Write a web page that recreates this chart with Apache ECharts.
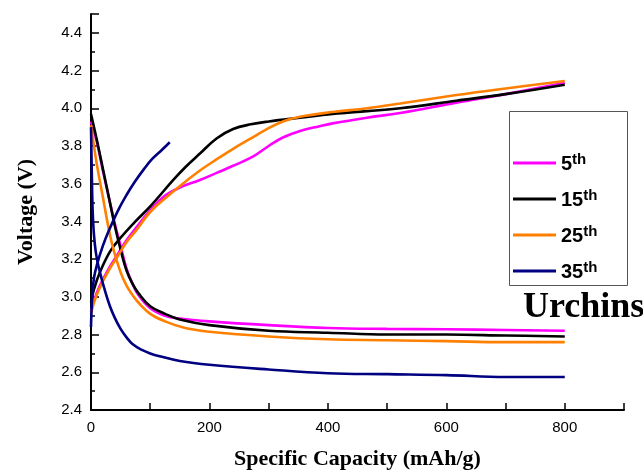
<!DOCTYPE html>
<html>
<head>
<meta charset="utf-8">
<script src="https://cdn.jsdelivr.net/npm/echarts@6/dist/echarts.min.js"></script>
<style>html,body{margin:0;padding:0;background:#fff;}#c{width:643px;height:470px;}</style>
</head>
<body>
<div id="c"></div>
<script>
// ---- data ----
const cycleNames = ['5th', '15th', '25th', '35th'];
const cycleColors = ['#ff00ff', '#000000', '#ff8000', '#000080'];
const xTickLabels = [0, 200, 400, 600, 800];
const yTickLabels = [2.4, 2.6, 2.8, 3.0, 3.2, 3.4, 3.6, 3.8, 4.0, 4.2, 4.4];

// discharge curves [capacity mAh/g, voltage V]
const dis5 = [[0,3.93],[10,3.82],[20,3.67],[30,3.53],[40,3.39],[50,3.27],[60,3.15],[70,3.07],[80,3.01],[100,2.94],[125,2.90],[150,2.885],[200,2.87],[300,2.85],[400,2.835],[500,2.83],[600,2.828],[700,2.824],[800,2.82]];
const dis15 = [[0,3.97],[10,3.83],[20,3.68],[30,3.53],[40,3.38],[50,3.25],[60,3.14],[70,3.07],[80,3.02],[100,2.95],[125,2.91],[150,2.88],[200,2.85],[300,2.82],[400,2.81],[500,2.80],[600,2.80],[700,2.795],[800,2.79]];
const dis25 = [[0,3.91],[5,3.80],[10,3.70],[20,3.53],[30,3.36],[38,3.25],[50,3.13],[60,3.06],[70,3.01],[80,2.97],[100,2.91],[125,2.87],[159,2.835],[200,2.815],[300,2.79],[400,2.775],[500,2.77],[600,2.765],[700,2.76],[800,2.76]];
const dis35 = [[0,3.90],[1,3.72],[2,3.55],[3,3.44],[5,3.33],[8,3.24],[12,3.17],[16,3.12],[22,3.05],[32,2.95],[40,2.89],[50,2.83],[60,2.785],[70,2.75],[85,2.72],[100,2.70],[116,2.685],[150,2.66],[200,2.64],[300,2.615],[400,2.595],[500,2.59],[600,2.585],[700,2.575],[800,2.575]];

// charge curves
const chg5 = [[0,2.92],[5,2.98],[15,3.06],[30,3.15],[44,3.22],[60,3.30],[77,3.37],[100,3.46],[122,3.53],[150,3.58],[184,3.62],[214,3.66],[240,3.695],[274,3.745],[300,3.80],[324,3.845],[353,3.88],[386,3.905],[408,3.92],[466,3.95],[522,3.975],[617,4.03],[700,4.075],[800,4.135]];
const chg15 = [[0,2.97],[5,3.04],[15,3.13],[32,3.24],[49,3.31],[75,3.40],[100,3.48],[139,3.62],[160,3.69],[184,3.76],[212,3.84],[240,3.89],[270,3.915],[300,3.93],[353,3.95],[408,3.97],[466,3.985],[522,4.0],[617,4.04],[700,4.075],[800,4.125]];
const chg25 = [[0,2.91],[5,2.97],[15,3.05],[30,3.14],[44,3.21],[60,3.29],[77,3.355],[100,3.45],[128,3.53],[155,3.60],[184,3.67],[210,3.725],[240,3.785],[270,3.84],[297,3.89],[324,3.93],[353,3.955],[408,3.98],[466,4.0],[522,4.025],[617,4.07],[700,4.105],[800,4.145]];
const chg35 = [[0,2.84],[2,3.00],[5,3.10],[10,3.17],[20,3.27],[30,3.35],[46,3.46],[60,3.54],[74,3.61],[90,3.68],[103,3.73],[120,3.78],[133,3.82]];

const curves = [[dis5, chg5], [dis15, chg15], [dis25, chg25], [dis35, chg35]];

const series = [];
curves.forEach((pair, i) => {
  pair.forEach(d => {
    series.push({
      name: cycleNames[i],
      type: 'line',
      data: d,
      symbol: 'none',
      smooth: 0.4,
      color: cycleColors[i],
      lineStyle: { width: 2.6, color: cycleColors[i] },
      z: 2 + i
    });
  });
});

const chart = echarts.init(document.getElementById('c'), null, { renderer: 'canvas' });
chart.setOption({
  animation: false,
  backgroundColor: '#ffffff',
  grid: { left: 91, right: 19, top: 14, bottom: 60, containLabel: false, outerBoundsMode: 'none' },
  xAxis: {
    type: 'value', min: 0, max: 900, interval: 100,
    name: 'Specific Capacity (mAh/g)', nameLocation: 'middle', nameGap: 38,
    nameTextStyle: { fontFamily: 'Liberation Serif', fontWeight: 'bold', fontSize: 22, color: '#000' },
    axisLine: { show: true, onZero: false, lineStyle: { color: '#000', width: 2 } },
    axisTick: { show: true, inside: true, length: 7, lineStyle: { color: '#000', width: 1.5 } },
    axisLabel: { customValues: xTickLabels, fontFamily: 'Liberation Sans', fontSize: 15, color: '#000', margin: 10 },
    splitLine: { show: false }
  },
  yAxis: {
    type: 'value', min: 2.4, max: 4.5, interval: 0.2,
    name: 'Voltage (V)', nameLocation: 'middle', nameGap: 54,
    nameTextStyle: { fontFamily: 'Liberation Serif', fontWeight: 'bold', fontSize: 22, color: '#000' },
    axisLine: { show: true, lineStyle: { color: '#000', width: 2 } },
    axisTick: { show: true, inside: true, length: 8, lineStyle: { color: '#000', width: 1.5 } },
    minorTick: { show: true, splitNumber: 2, length: 4, lineStyle: { color: '#000', width: 1.5 } },
    axisLabel: { customValues: yTickLabels, formatter: v => v.toFixed(1), fontFamily: 'Liberation Sans', fontSize: 15, color: '#000', margin: 9 },
    splitLine: { show: false }
  },
  legend: {
    data: cycleNames,
    orient: 'vertical',
    left: 513, top: 152,
    icon: 'rect', itemWidth: 43, itemHeight: 3, itemGap: 14,
    padding: 0,
    formatter: name => '{n|' + name.replace('th', '') + '}{s|th}',
    textStyle: {
      rich: {
        n: { fontFamily: 'Liberation Sans', fontWeight: 'bold', fontSize: 20, color: '#000', lineHeight: 22, verticalAlign: 'bottom' },
        s: { fontFamily: 'Liberation Sans', fontWeight: 'bold', fontSize: 15, color: '#000', lineHeight: 22, verticalAlign: 'top' }
      }
    }
  },
  graphic: [
    { type: 'rect', left: 507, top: 109, shape: { width: 118, height: 174 }, style: { fill: 'none', stroke: '#555', lineWidth: 1 }, z: 0 },
    { type: 'text', left: 523, top: 290, style: { text: 'Urchins', fontFamily: 'Liberation Serif', fontWeight: 'bold', fontSize: 36, fill: '#000' } }
  ],
  series: series
});
</script>
</body>
</html>
